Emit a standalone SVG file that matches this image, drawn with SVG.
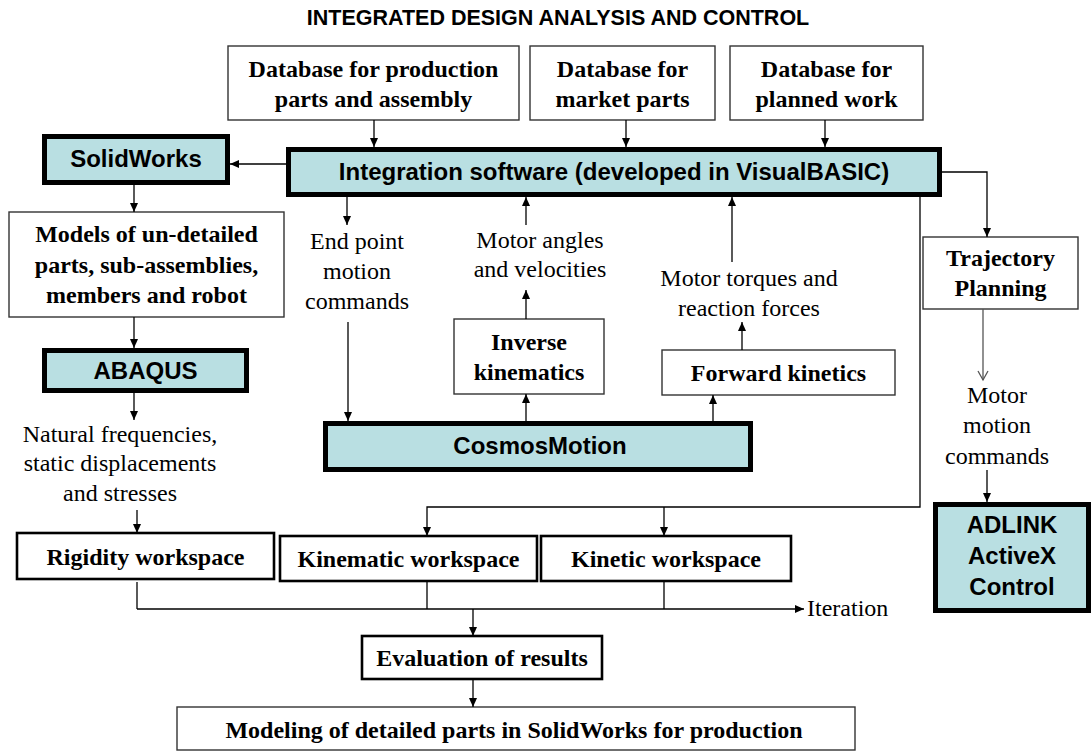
<svg xmlns="http://www.w3.org/2000/svg" width="1092" height="752" viewBox="0 0 1092 752">
  <defs>
    <marker id="arrow" markerUnits="userSpaceOnUse" markerWidth="10" markerHeight="10" refX="9" refY="5" orient="auto">
      <path d="M0,1 L9,5 L0,9 Z" fill="#000"/>
    </marker>
    <marker id="open-arrow" markerUnits="userSpaceOnUse" markerWidth="12" markerHeight="12" refX="10" refY="6" orient="auto">
      <path d="M1,1 L10,6 L1,11" fill="none" stroke="#555" stroke-width="1.3"/>
    </marker>
    <style>
      .thin { fill: #fff; stroke: #333; stroke-width: 1.4; }
      .mid { fill: #fff; stroke: #000; stroke-width: 2.6; }
      .tool { fill: #b9dfe2; stroke: #000; stroke-width: 5; }
      .lbl { font-family: "Liberation Serif", "Times New Roman", serif; font-weight: bold; font-size: 24px; fill: #000; text-anchor: middle; }
      .sans { font-family: "Liberation Sans", Arial, sans-serif; font-weight: bold; font-size: 24px; fill: #000; text-anchor: middle; }
      .note { font-family: "Liberation Serif", "Times New Roman", serif; font-size: 24px; fill: #000; text-anchor: middle; }
      .note-start { font-family: "Liberation Serif", "Times New Roman", serif; font-size: 24px; fill: #000; text-anchor: start; }
      .wire { fill: none; stroke: #000; stroke-width: 1.3; }
      .wire-gray { fill: none; stroke: #555; stroke-width: 1.3; }
    </style>
  </defs>

  <rect width="1092" height="752" fill="#fff"/>

  <text x="558" y="25" font-family="Liberation Sans, Arial, sans-serif" font-weight="bold" font-size="21.5" text-anchor="middle">INTEGRATED DESIGN ANALYSIS AND CONTROL</text>

  <!-- data sources -->
  <g id="db-production">
    <rect class="thin" x="228" y="46" width="291" height="74"/>
    <text class="lbl" x="373.5" y="77">Database for production</text>
    <text class="lbl" x="373.5" y="107">parts and assembly</text>
  </g>
  <g id="db-market">
    <rect class="thin" x="530" y="46" width="185" height="74"/>
    <text class="lbl" x="622.5" y="77">Database for</text>
    <text class="lbl" x="622.5" y="107">market parts</text>
  </g>
  <g id="db-planned">
    <rect class="thin" x="730" y="46" width="193" height="74"/>
    <text class="lbl" x="826.5" y="77">Database for</text>
    <text class="lbl" x="826.5" y="107">planned work</text>
  </g>

  <!-- software tools -->
  <g id="integration">
    <rect class="tool" x="288.5" y="149.5" width="651" height="45"/>
    <text class="sans" x="614" y="180">Integration software (developed in VisualBASIC)</text>
  </g>
  <g id="solidworks">
    <rect class="tool" x="44.5" y="136.5" width="183" height="46"/>
    <text class="sans" x="136" y="167">SolidWorks</text>
  </g>
  <g id="models">
    <rect class="thin" x="9" y="212" width="275" height="105"/>
    <text class="lbl" x="146.5" y="242">Models of un-detailed</text>
    <text class="lbl" x="146.5" y="273">parts, sub-assemblies,</text>
    <text class="lbl" x="146.5" y="303">members  and robot</text>
  </g>
  <g id="abaqus">
    <rect class="tool" x="44.5" y="350.5" width="202" height="40"/>
    <text class="sans" x="145.5" y="379">ABAQUS</text>
  </g>
  <g id="cosmosmotion">
    <rect class="tool" x="325.5" y="423.5" width="425" height="46"/>
    <text class="sans" x="540" y="454">CosmosMotion</text>
  </g>
  <g id="inverse-kinematics">
    <rect class="thin" x="454" y="319" width="150" height="75"/>
    <text class="lbl" x="529" y="350">Inverse</text>
    <text class="lbl" x="529" y="380">kinematics</text>
  </g>
  <g id="forward-kinetics">
    <rect class="thin" x="662" y="350" width="233" height="45"/>
    <text class="lbl" x="778.5" y="381">Forward kinetics</text>
  </g>
  <g id="trajectory">
    <rect class="thin" x="923" y="237" width="155" height="72"/>
    <text class="lbl" x="1000.5" y="266">Trajectory</text>
    <text class="lbl" x="1000.5" y="296">Planning</text>
  </g>
  <g id="adlink">
    <rect class="tool" x="935.5" y="504.5" width="153" height="106"/>
    <text class="sans" x="1012" y="533">ADLINK</text>
    <text class="sans" x="1012" y="564">ActiveX</text>
    <text class="sans" x="1012" y="595">Control</text>
  </g>

  <!-- workspaces and results -->
  <g id="rigidity">
    <rect class="mid" x="17" y="533" width="257" height="46"/>
    <text class="lbl" x="145.5" y="565">Rigidity workspace</text>
  </g>
  <g id="kinematic">
    <rect class="mid" x="280" y="536" width="257" height="45"/>
    <text class="lbl" x="408.5" y="567">Kinematic workspace</text>
  </g>
  <g id="kinetic">
    <rect class="mid" x="541" y="536" width="250" height="45"/>
    <text class="lbl" x="666" y="567">Kinetic workspace</text>
  </g>
  <g id="evaluation">
    <rect class="mid" x="362" y="636" width="240" height="43"/>
    <text class="lbl" x="482" y="666">Evaluation of results</text>
  </g>
  <g id="modeling">
    <rect class="thin" x="177" y="707" width="678" height="43"/>
    <text class="lbl" x="514" y="738">Modeling of detailed  parts in SolidWorks for production</text>
  </g>

  <!-- flow labels -->
  <g id="labels">
    <text class="note" x="357" y="249">End point</text>
    <text class="note" x="357" y="279">motion</text>
    <text class="note" x="357" y="309">commands</text>
    <text class="note" x="540" y="248">Motor angles</text>
    <text class="note" x="540" y="277">and velocities</text>
    <text class="note" x="749" y="286">Motor torques and</text>
    <text class="note" x="749" y="316">reaction forces</text>
    <text class="note" x="120" y="442">Natural frequencies,</text>
    <text class="note" x="120" y="471">static displacements</text>
    <text class="note" x="120" y="501">and stresses</text>
    <text class="note" x="997" y="403">Motor</text>
    <text class="note" x="997" y="433">motion</text>
    <text class="note" x="997" y="464">commands</text>
    <text class="note-start" x="807" y="616">Iteration</text>
  </g>

  <g id="connectors">
    <line class="wire" x1="374" y1="120" x2="374" y2="147" marker-end="url(#arrow)"/>
    <line class="wire" x1="626" y1="120" x2="626" y2="147" marker-end="url(#arrow)"/>
    <line class="wire" x1="825" y1="120" x2="825" y2="147" marker-end="url(#arrow)"/>
    <line class="wire" x1="286" y1="164" x2="230" y2="164" marker-end="url(#arrow)"/>
    <line class="wire" x1="134" y1="185" x2="134" y2="212" marker-end="url(#arrow)"/>
    <line class="wire" x1="134" y1="317" x2="134" y2="348" marker-end="url(#arrow)"/>
    <line class="wire" x1="134" y1="393" x2="134" y2="420" marker-end="url(#arrow)"/>
    <line class="wire" x1="137" y1="510" x2="137" y2="533" marker-end="url(#arrow)"/>

    <line class="wire" x1="347" y1="197" x2="347" y2="225" marker-end="url(#arrow)"/>
    <line class="wire" x1="348" y1="322" x2="348" y2="421" marker-end="url(#arrow)"/>
    <line class="wire" x1="526" y1="421" x2="526" y2="394" marker-end="url(#arrow)"/>
    <line class="wire" x1="526" y1="319" x2="526" y2="290" marker-end="url(#arrow)"/>
    <line class="wire" x1="526" y1="225" x2="526" y2="197" marker-end="url(#arrow)"/>
    <line class="wire" x1="713" y1="421" x2="713" y2="395" marker-end="url(#arrow)"/>
    <line class="wire" x1="742" y1="350" x2="742" y2="322" marker-end="url(#arrow)"/>
    <line class="wire" x1="732" y1="262" x2="732" y2="197" marker-end="url(#arrow)"/>

    <polyline class="wire" points="942,172 987,172 987,237" marker-end="url(#arrow)"/>
    <line class="wire-gray" x1="983" y1="309" x2="983" y2="380" marker-end="url(#open-arrow)"/>
    <line class="wire" x1="987" y1="470" x2="987" y2="502" marker-end="url(#arrow)"/>

    <polyline class="wire" points="920,197 920,507 427,507 427,536" marker-end="url(#arrow)"/>
    <line class="wire" x1="664" y1="507" x2="664" y2="536" marker-end="url(#arrow)"/>

    <line class="wire" x1="137" y1="582" x2="137" y2="609"/>
    <line class="wire" x1="427" y1="581" x2="427" y2="609"/>
    <line class="wire" x1="664" y1="581" x2="664" y2="609"/>
    <line class="wire" x1="137" y1="609" x2="804" y2="609" marker-end="url(#arrow)"/>
    <line class="wire" x1="473" y1="609" x2="473" y2="636" marker-end="url(#arrow)"/>
    <line class="wire" x1="473" y1="679" x2="473" y2="707" marker-end="url(#arrow)"/>
  </g>
</svg>
